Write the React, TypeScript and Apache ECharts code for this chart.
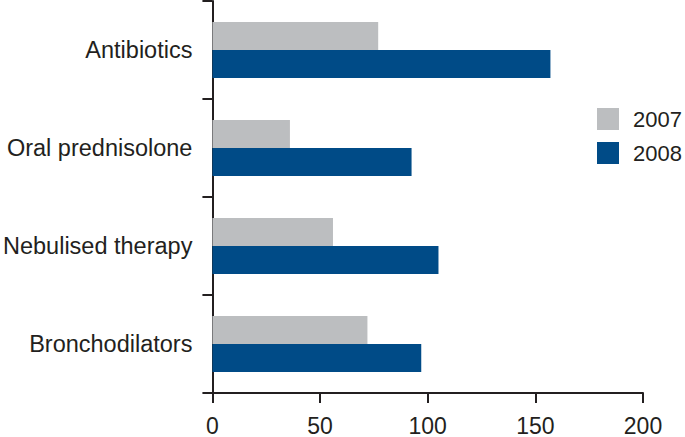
import React, { useEffect, useRef } from "react";
import * as echarts from "echarts";

const categories = ["Antibiotics", "Oral prednisolone", "Nebulised therapy", "Bronchodilators"];
const seriesNames = ["2007", "2008"];
const values2007 = [77, 36, 56, 72];
const values2008 = [157, 92.5, 105, 97];
const xTicks = [0, 50, 100, 150, 200];

const TEXT = "#231f20";
const FONT = "Liberation Sans, Arial, sans-serif";

export default function App() {
  const ref = useRef<HTMLDivElement>(null);
  useEffect(() => {
    const chart = echarts.init(ref.current!, null, { renderer: "svg" });
    chart.setOption({
      animation: false,
      backgroundColor: "#ffffff",
      grid: { left: 207, right: 42, top: 1, bottom: 37, containLabel: false },
      legend: {
        orient: "vertical",
        left: 597,
        top: 108,
        padding: 0,
        itemWidth: 22,
        itemHeight: 22,
        itemGap: 12,
        icon: "rect",
        data: seriesNames,
        textStyle: { color: TEXT, fontSize: 22, fontFamily: FONT, padding: [0, 0, 0, 9] },
      },
      xAxis: {
        type: "value",
        min: xTicks[0],
        max: xTicks[xTicks.length - 1],
        interval: 50,
        splitLine: { show: false },
        axisLine: { show: true, lineStyle: { color: TEXT, width: 2 } },
        axisTick: { show: true, length: 10, lineStyle: { color: TEXT, width: 2 } },
        axisLabel: { color: TEXT, fontSize: 23, fontFamily: FONT, margin: 21 },
      },
      yAxis: {
        type: "category",
        inverse: true,
        data: categories,
        axisLine: { show: true, lineStyle: { color: TEXT, width: 2 } },
        axisTick: { show: true, length: 10, lineStyle: { color: TEXT, width: 2 } },
        axisLabel: { color: TEXT, fontSize: 23.5, fontFamily: FONT, margin: 20 },
      },
      series: [
        {
          name: seriesNames[0],
          type: "bar",
          data: values2007,
          barWidth: 28,
          barGap: "0%",
          itemStyle: { color: "#bcbec0" },
        },
        {
          name: seriesNames[1],
          type: "bar",
          data: values2008,
          barWidth: 28,
          barGap: "0%",
          itemStyle: { color: "#004b87" },
        },
      ],
    });
    return () => chart.dispose();
  }, []);
  return <div ref={ref} style={{ width: 685, height: 437, position: "absolute", left: 0, top: 0 }} />;
}
